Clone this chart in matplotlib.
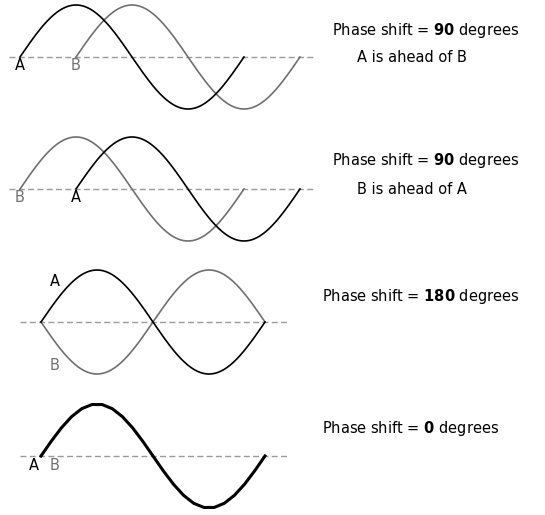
import numpy as np
import matplotlib.pyplot as plt

plt.rcParams['font.family'] = ['DejaVu Sans']
plt.rcParams['mathtext.fontset'] = 'custom'
plt.rcParams['mathtext.bf'] = 'DejaVu Sans:bold'

# phase shift of each panel (degrees) and the note under it
shifts = [90, 90, 180, 0]
notes = ["A is ahead of B", "B is ahead of A", "", ""]
# start of each wave, in degrees along the panel, and sign of wave B
a_start = [0, 90, 0, 0]
b_start = [90, 0, 0, 0]
b_sign = [1, 1, -1, 1]
n_pts = [200, 200, 200, 23]     # last panel is drawn coarse

# layout (pixels)
axis_y = [57, 189, 322, 456]
x_left = [20, 20, 41, 41]
dash_x = [(9, 315), (9, 315), (20, 287), (20, 287)]
period = 224
amp = 52
grey = "#707070"

fig = plt.figure(figsize=(5.45, 5.15), dpi=100)
ax = fig.add_axes([0, 0, 1, 1])
ax.set_xlim(0, 545)
ax.set_ylim(515, 0)
ax.axis('off')

for i in range(4):
    y0 = axis_y[i]
    ax.plot(dash_x[i], [y0, y0], color="#9a9a9a", lw=1.0, dashes=(4.3, 2.4), zorder=1)

    th = np.linspace(0, 360, n_pts[i])
    if i < 3:
        xb = x_left[i] + (b_start[i] + th) / 360 * period
        yb = y0 - b_sign[i] * amp * np.sin(np.radians(th))
        ax.plot(xb, yb, color=grey, lw=1.2, zorder=2)
    xa = x_left[i] + (a_start[i] + th) / 360 * period
    ya = y0 - amp * np.sin(np.radians(th))
    ax.plot(xa, ya, color="black", lw=2.2 if i == 3 else 1.2, zorder=3)

# A / B labels
lab = dict(fontsize=10.5, ha="center", va="center")
ax.text(20, 65, "A", color="black", **lab)
ax.text(76, 65, "B", color=grey, **lab)
ax.text(20, 197, "B", color=grey, **lab)
ax.text(76, 197, "A", color="black", **lab)
ax.text(55, 282, "A", color="black", **lab)
ax.text(55, 366, "B", color=grey, **lab)
ax.text(34, 465, "A", color="black", **lab)
ax.text(55, 465, "B", color=grey, **lab)

# side text
txt = dict(fontsize=10.5, va="center", color="black")
ax.text(426, 30, r"Phase shift = $\mathbf{%d}$ degrees" % shifts[0], ha="center", **txt)
ax.text(412, 57, notes[0], ha="center", **txt)
ax.text(426, 161, r"Phase shift = $\mathbf{%d}$ degrees" % shifts[1], ha="center", **txt)
ax.text(412, 190, notes[1], ha="center", **txt)
ax.text(322, 297, r"Phase shift = $\mathbf{%d}$ degrees" % shifts[2], ha="left", **txt)
ax.text(322, 428, r"Phase shift = $\mathbf{%d}$ degrees" % shifts[3], ha="left", **txt)

fig.savefig("out.png", dpi=100)
